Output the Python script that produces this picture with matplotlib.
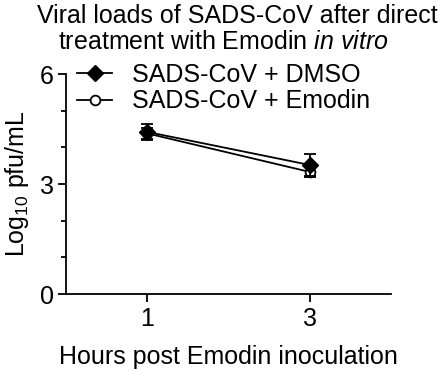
import matplotlib.pyplot as plt
from matplotlib.lines import Line2D
from matplotlib.ticker import MultipleLocator

plt.rcParams['font.family'] = ['Liberation Sans', 'DejaVu Sans']
plt.rcParams['mathtext.fontset'] = 'custom'
plt.rcParams['mathtext.rm'] = 'Liberation Sans'
plt.rcParams['mathtext.it'] = 'Liberation Sans:italic'

hours = [1, 3]
dmso_mean = [4.42, 3.52]
dmso_err = [0.22, 0.30]
emodin_mean = [4.38, 3.33]
emodin_err = [0.14, 0.15]

fig = plt.figure(figsize=(4.47, 3.70), dpi=100)
ax = fig.add_axes([0.148, 0.205, 0.727, 0.595])

lw = 1.3
ax.errorbar(hours, emodin_mean, yerr=emodin_err, color='black', marker='o', markersize=7,
            markerfacecolor='white', markeredgewidth=lw, linewidth=lw, capsize=4.5,
            elinewidth=lw, capthick=lw, zorder=3)
ax.errorbar(hours, dmso_mean, yerr=dmso_err, color='black', marker='D', markersize=8,
            markerfacecolor='black', linewidth=lw, capsize=4.5,
            elinewidth=lw, capthick=lw, zorder=4)

ax.set_xlim(0, 4)
ax.set_ylim(0, 6)
ax.set_xticks(hours)
ax.set_yticks([0, 3, 6])
ax.yaxis.set_minor_locator(MultipleLocator(1))
ax.tick_params(axis='both', which='major', labelsize=18, width=lw, length=6, direction='out', pad=3)
ax.tick_params(axis='y', which='minor', width=lw, length=3.5)
for side in ['top', 'right']:
    ax.spines[side].set_visible(False)
for side in ['left', 'bottom']:
    ax.spines[side].set_linewidth(lw)

ax.set_xlabel('Hours post Emodin inoculation', fontsize=18, labelpad=10)
ax.set_ylabel('Log$_{10}$ pfu/mL', fontsize=18, labelpad=6)

handles = [
    Line2D([], [], color='black', marker='D', markersize=8, linewidth=lw),
    Line2D([], [], color='black', marker='o', markersize=7, markerfacecolor='white',
           markeredgewidth=lw, linewidth=lw),
]
labels = ['SADS-CoV + DMSO', 'SADS-CoV + Emodin']
fig.legend(handles, labels, loc='upper left', bbox_to_anchor=(77 / 447, 1 - 63 / 370),
           frameon=False, fontsize=18, handlelength=1.4, handletextpad=0.8,
           labelspacing=0.1, borderpad=0, borderaxespad=0)

fig.text(0.53, 0.99, 'Viral loads of SADS-CoV after direct', ha='center', va='top', fontsize=18)
fig.text(0.50, 0.918, 'treatment with Emodin $\\mathit{in\\ vitro}$', ha='center', va='top', fontsize=18)

fig.savefig('out.png', dpi=100)
